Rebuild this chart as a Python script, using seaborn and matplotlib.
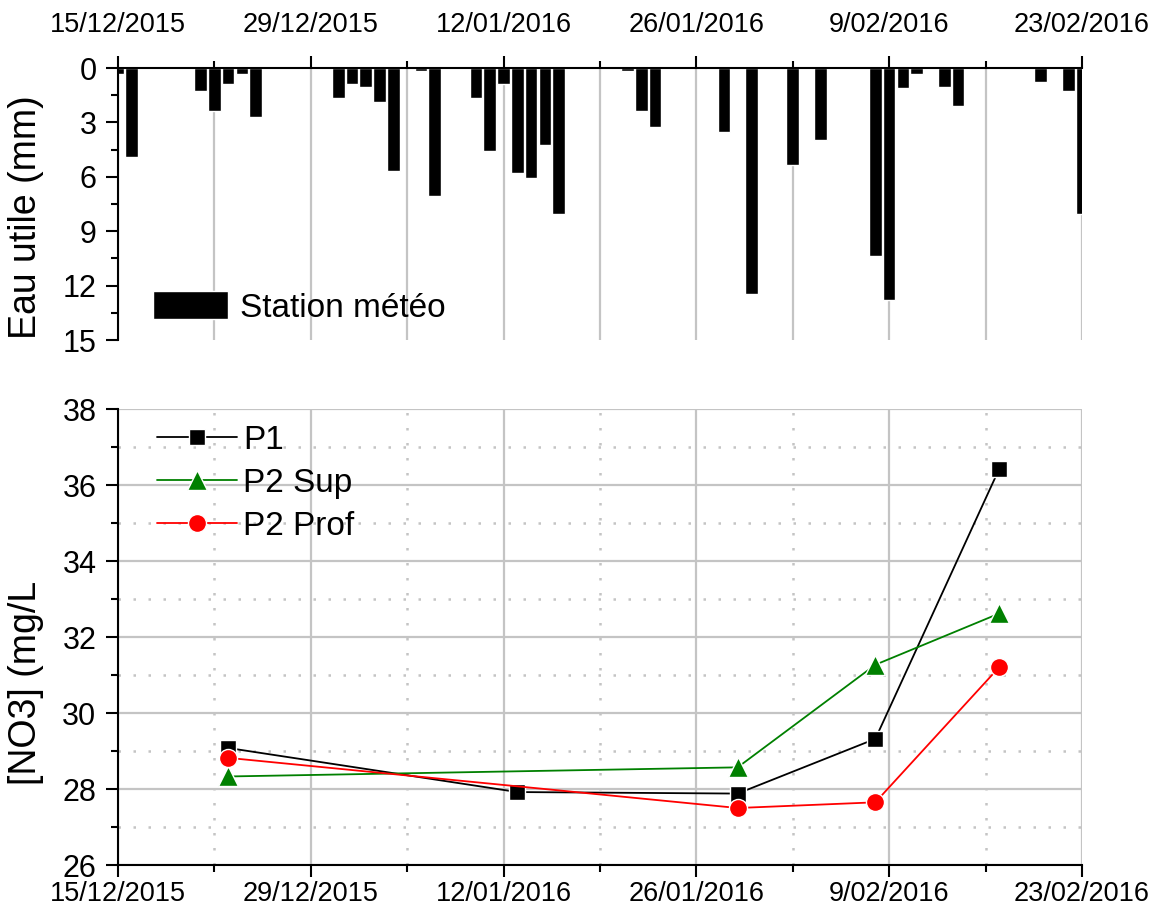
import numpy as np
import pandas as pd
import matplotlib
matplotlib.use("Agg")
import matplotlib.pyplot as plt
import matplotlib.dates as mdates
from matplotlib.ticker import FixedLocator, MultipleLocator, FuncFormatter
import seaborn as sns

# daily rainfall (mm), only the days with rain
rain_dates = ["2015-12-15", "2015-12-16", "2015-12-21", "2015-12-22", "2015-12-23",
              "2015-12-24", "2015-12-25", "2015-12-31", "2016-01-01", "2016-01-02",
              "2016-01-03", "2016-01-04", "2016-01-06", "2016-01-07", "2016-01-10",
              "2016-01-11", "2016-01-12", "2016-01-13", "2016-01-14", "2016-01-15",
              "2016-01-16", "2016-01-21", "2016-01-22", "2016-01-23", "2016-01-28",
              "2016-01-30", "2016-02-02", "2016-02-04", "2016-02-08", "2016-02-09",
              "2016-02-10", "2016-02-11", "2016-02-13", "2016-02-14", "2016-02-20",
              "2016-02-22", "2016-02-23"]
rain_mm = [0.35, 4.9, 1.25, 2.37, 0.86,
           0.35, 2.68, 1.67, 0.86, 1.07,
           1.88, 5.68, 0.15, 7.06, 1.65,
           4.56, 0.86, 5.77, 6.07, 4.27,
           8.07, 0.17, 2.37, 3.27, 3.55,
           12.48, 5.35, 3.97, 10.37, 12.8,
           1.08, 0.35, 1.07, 2.08, 0.75,
           1.27, 8.07]

# nitrate concentrations (mg/L)
p1_dates = ["2015-12-23", "2016-01-13", "2016-01-29", "2016-02-08", "2016-02-17"]
p1_no3 = [29.08, 27.92, 27.88, 29.32, 36.43]
sup_dates = ["2015-12-23", "2016-01-29", "2016-02-08", "2016-02-17"]
sup_no3 = [28.33, 28.57, 31.27, 32.62]
prof_dates = ["2015-12-23", "2016-01-29", "2016-02-08", "2016-02-17"]
prof_no3 = [28.82, 27.5, 27.65, 31.21]

tick_dates = ["2015-12-15", "2015-12-29", "2016-01-12", "2016-01-26",
              "2016-02-09", "2016-02-23"]


def to_num(dates):
    return mdates.date2num(pd.to_datetime(dates))


def date_label(x, pos):
    d = mdates.num2date(x)
    return f"{d.day}/{d.month:02d}/{d.year}"


sns.set_style("ticks")
plt.rcParams["font.family"] = ["Liberation Sans", "DejaVu Sans"]
plt.rcParams["text.color"] = "black"
plt.rcParams["axes.labelcolor"] = "black"
plt.rcParams["xtick.color"] = "black"
plt.rcParams["ytick.color"] = "black"

fig = plt.figure(figsize=(11.62, 9.14), dpi=100)
ax1 = fig.add_axes([0.1015, 0.628, 0.8296, 0.2976])
ax2 = fig.add_axes([0.1015, 0.0536, 0.8296, 0.4989])

major = to_num(tick_dates)
minor = major[:-1] + 7
xlim = (major[0], major[-1])
grey = "#c4c4c4"

# ---- upper panel: rainfall bars
rain = pd.DataFrame({"day": to_num(rain_dates), "mm": rain_mm})
sns.barplot(data=rain, x="day", y="mm", native_scale=True, orient="x",
            color="black", width=0.92, errorbar=None, ax=ax1,
            label="Station météo", saturation=1)
ax1.set_xlim(*xlim)
ax1.set_ylim(15, 0)
ax1.xaxis.tick_top()
ax1.xaxis.set_major_locator(FixedLocator(major))
ax1.xaxis.set_minor_locator(FixedLocator(minor))
ax1.xaxis.set_major_formatter(FuncFormatter(date_label))
ax1.yaxis.set_major_locator(MultipleLocator(3))
ax1.yaxis.set_minor_locator(MultipleLocator(1.5))
ax1.set_axisbelow(True)
ax1.grid(axis="x", which="both", color=grey, lw=1.6, ls="-")
ax1.grid(axis="y", visible=False)
ax1.spines["right"].set_visible(False)
ax1.spines["bottom"].set_visible(False)
ax1.set_xlabel("")
ax1.set_ylabel("Eau utile (mm)", fontsize=27)
ax1.yaxis.set_label_coords(-0.077, 0.45)
ax1.legend(loc="lower left", bbox_to_anchor=(0.036, 0.06), frameon=False,
           fontsize=24, handlelength=2.25, handleheight=0.9,
           handletextpad=0.36, borderpad=0, borderaxespad=0)

# ---- lower panel: nitrate lines
series = [
    (p1_dates, p1_no3, "P1", "black", "s", 11),
    (sup_dates, sup_no3, "P2 Sup", "green", "^", 14),
    (prof_dates, prof_no3, "P2 Prof", "red", "o", 13),
]
for dates, vals, name, col, mk, ms in series:
    sns.lineplot(x=to_num(dates), y=vals, color=col, marker=mk, markersize=ms,
                 markeredgecolor="white", markeredgewidth=1.0, lw=1.3,
                 label=name, ax=ax2)

ax2.set_xlim(*xlim)
ax2.set_ylim(26, 38)
ax2.xaxis.set_major_locator(FixedLocator(major))
ax2.xaxis.set_minor_locator(FixedLocator(minor))
ax2.xaxis.set_major_formatter(FuncFormatter(date_label))
ax2.yaxis.set_major_locator(MultipleLocator(2))
ax2.yaxis.set_minor_locator(MultipleLocator(1))
ax2.set_axisbelow(True)
ax2.grid(which="major", color=grey, lw=1.6, ls="-")
ax2.grid(which="minor", color=grey, lw=1.8, ls=(0, (1, 5)))
ax2.spines["right"].set_visible(False)
ax2.spines["top"].set_visible(False)
ax2.set_ylabel("[NO3] (mg/L", fontsize=27)
ax2.yaxis.set_label_coords(-0.077, 0.40)
ax2.legend(loc="upper left", bbox_to_anchor=(0.04, 0.965), frameon=False,
           fontsize=24, numpoints=1, handlelength=2.4, handletextpad=0.2,
           labelspacing=0.36, borderpad=0, borderaxespad=0)

for ax in (ax1, ax2):
    for sp in ax.spines.values():
        sp.set_linewidth(1.5)
        sp.set_color("black")
    ax.tick_params(which="major", length=8.5, width=1.5, color="black",
                   labelsize=19.5, pad=3)
    ax.tick_params(which="minor", length=5, width=1.5, color="black")
    ax.tick_params(axis="y", which="major", labelsize=22, pad=7)

# top date labels sit higher above the axis in the original
ax1.tick_params(axis="x", which="major", pad=13)

fig.savefig("out.png", dpi=100)
